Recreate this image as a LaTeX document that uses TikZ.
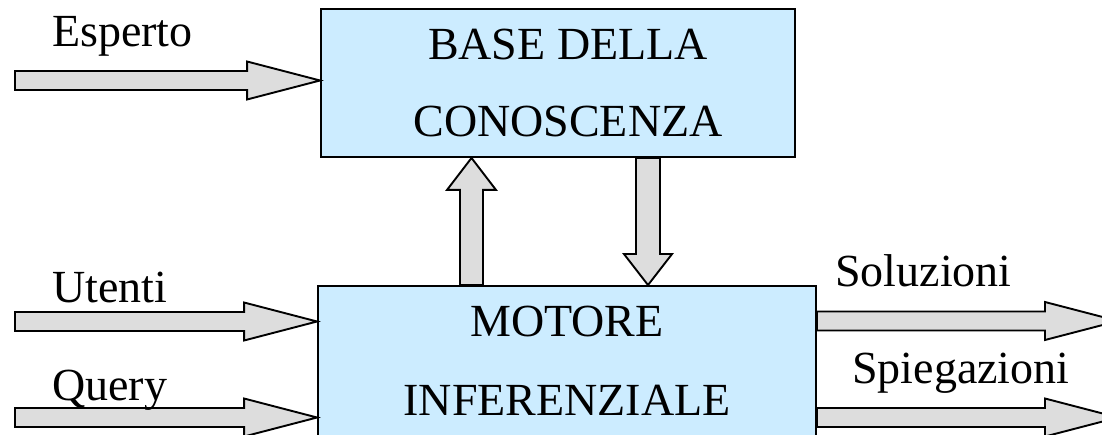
\documentclass[tikz,border=0pt]{standalone}
\usepackage{fontspec}
\setmainfont{Liberation Serif}
\usetikzlibrary{calc}
\definecolor{boxblue}{HTML}{CCECFF}
\definecolor{arrowgray}{HTML}{DDDDDD}
\tikzset{
  boxstyle/.style={draw=black, line width=1.9pt, fill=boxblue, rectangle, inner sep=0pt},
  blockarrow/.style={draw=black, line width=1.9pt, fill=arrowgray, line join=miter},
  lbl/.style={inner sep=0pt, font=\fontsize{46}{54}\selectfont}
}
\newcommand\blockarrow[5]{%
  \coordinate (ba-b) at ($(#2)!#5!(#1)$);
  \draw[blockarrow] ($(#1)!#3!90:(#2)$) -- ($(ba-b)!#3!90:(#2)$) -- ($(ba-b)!#4!90:(#2)$)
     -- (#2) -- ($(ba-b)!#4!-90:(#2)$) -- ($(ba-b)!#3!-90:(#2)$) -- ($(#1)!#3!-90:(#2)$) -- cycle;
}
\begin{document}
\begin{tikzpicture}[x=1pt,y=-1pt]
\clip (0,0) rectangle (1102,435);
\fill[white] (0,0) rectangle (1102,435);
% boxes
\node[boxstyle, minimum width=474pt, minimum height=148pt] (kb) at (558,83) {};
\node[boxstyle, minimum width=498pt, minimum height=184pt] (mi) at (567,378) {};
% box texts
\node[lbl, anchor=base] (kb1) at (568,60) {BASE DELLA};
\node[lbl, anchor=base] (kb2) at (568,137) {CONOSCENZA};
\node[lbl, anchor=base] (mi1) at (567,337) {MOTORE};
\node[lbl, anchor=base] (mi2) at (567,415) {INFERENZIALE};
% arrow coordinates
\coordinate (e1) at (15,80.5);
\coordinate (e2) at (kb.west |- e1);
\coordinate (u1) at (15,321.5);
\coordinate (u2) at (mi.west |- u1);
\coordinate (q1) at (15,417.5);
\coordinate (q2) at (mi.west |- q1);
\coordinate (s2) at (1118,321);
\coordinate (s1) at (mi.east |- s2);
\coordinate (p2) at (1118,417.5);
\coordinate (p1) at (mi.east |- p2);
\coordinate (upx) at (471.5,0);
\coordinate (up1) at (mi.north -| upx);
\coordinate (up2) at (kb.south -| upx);
\coordinate (dnx) at (648,0);
\coordinate (dn1) at (kb.south -| dnx);
\coordinate (dn2) at (mi.north -| dnx);
% block arrows
\blockarrow{e1}{e2}{9.5pt}{19pt}{73pt}
\blockarrow{u1}{u2}{9.5pt}{19pt}{73pt}
\blockarrow{q1}{q2}{9.5pt}{19pt}{73pt}
\blockarrow{s1}{s2}{9.5pt}{19pt}{73pt}
\blockarrow{p1}{p2}{9.5pt}{19pt}{73pt}
\blockarrow{up1}{up2}{11.5pt}{24.5pt}{32pt}
\blockarrow{dn1}{dn2}{12pt}{24pt}{31pt}
% labels
\node[lbl, anchor=base west] (esp) at (52,47) {Esperto};
\node[lbl, anchor=base west] (ute) at (52,303) {Utenti};
\node[lbl, anchor=base west] (qry) at (52,400) {Query};
\node[lbl, anchor=base west] (sol) at (835,287) {Soluzioni};
\node[lbl, anchor=base west] (spi) at (852,383) {Spiegazioni};
\end{tikzpicture}
\end{document}
